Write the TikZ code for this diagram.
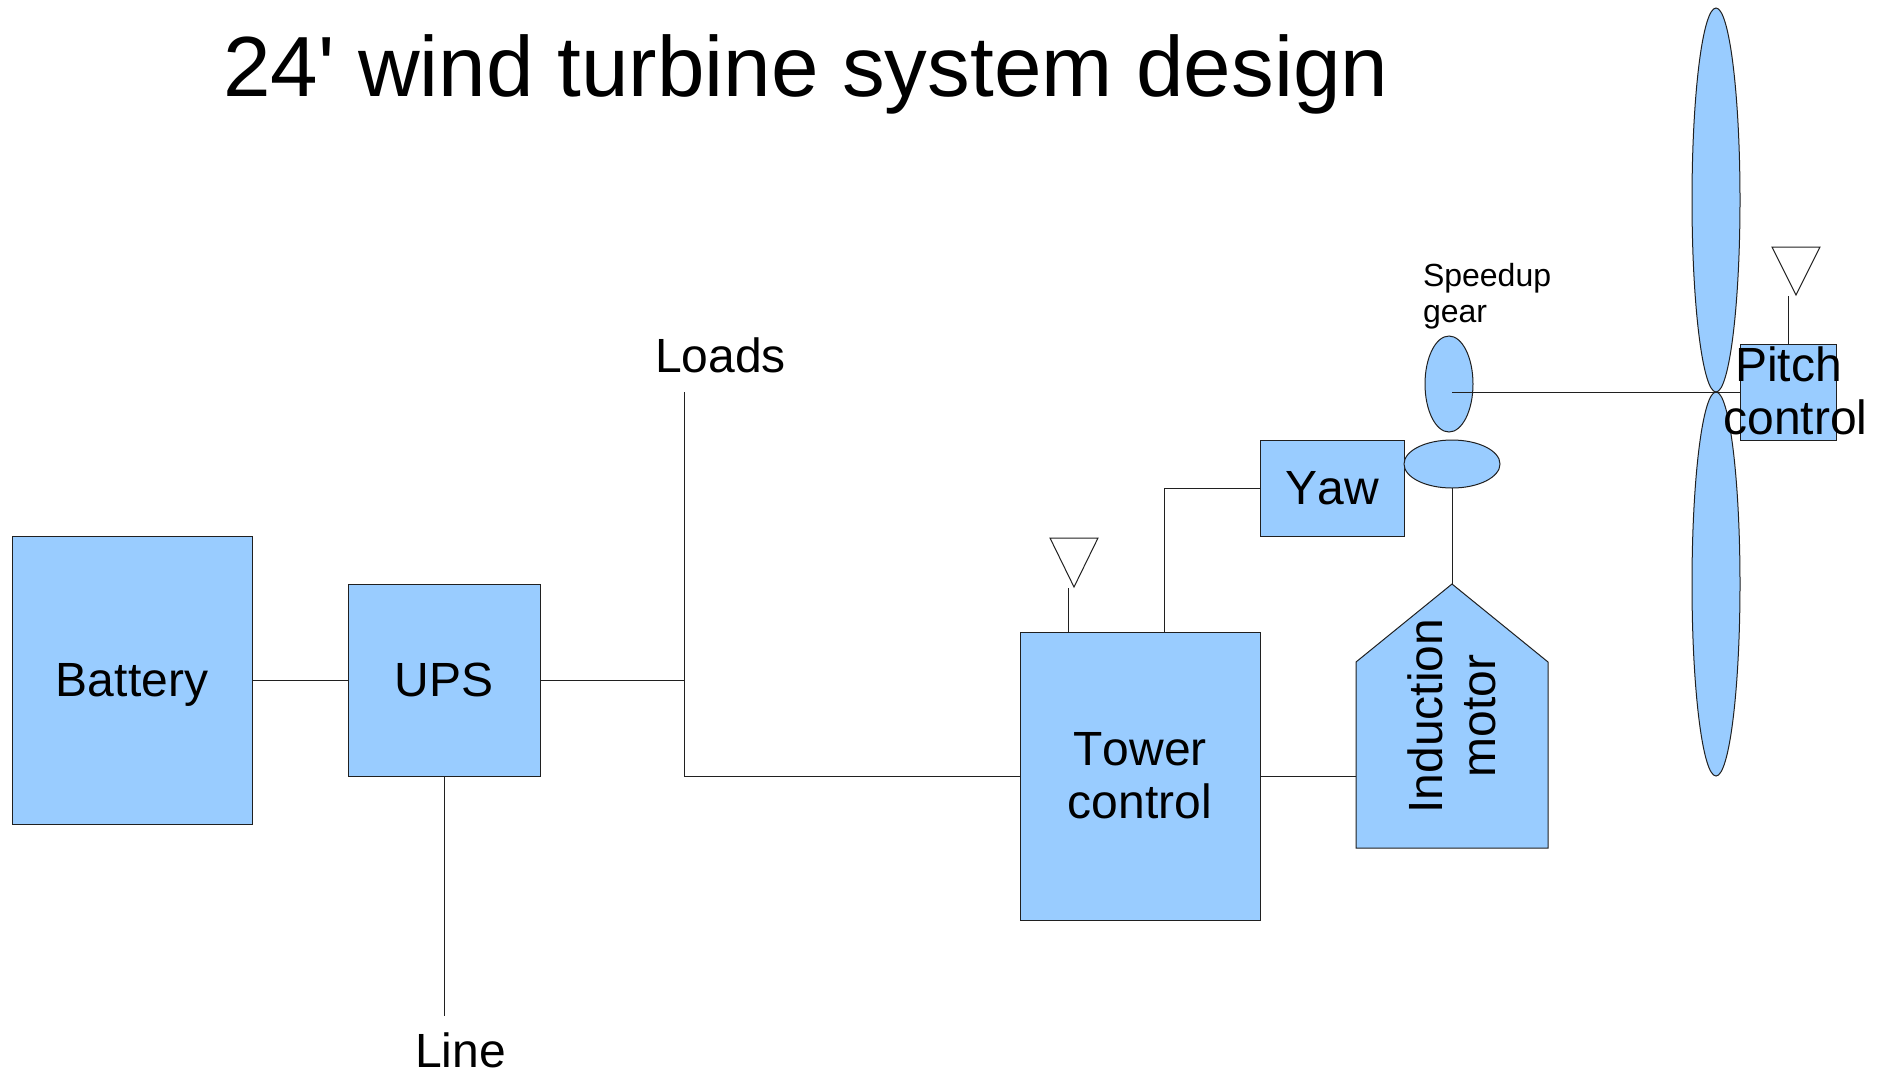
\documentclass[tikz,border=0pt]{standalone}
\usepackage{fontspec}
\setmainfont[Kerning=Off]{Liberation Sans}
\newfontfamily\titlefont[Kerning=Off]{Liberation Sans}
\usetikzlibrary{shapes.geometric}
\definecolor{boxblue}{HTML}{99CCFF}
\definecolor{wirecol}{HTML}{202020}
\tikzset{
  bluebox/.style={draw=wirecol,fill=boxblue,line width=1pt,rectangle,inner sep=0pt,outer sep=0pt,align=center,font=\fontsize{48}{53}\selectfont},
  blueoval/.style={draw=wirecol,fill=boxblue,line width=1pt,ellipse,inner sep=0pt,outer sep=0pt},
  wire/.style={draw=wirecol,line width=1pt},
  shapeline/.style={draw=wirecol,line width=1pt,line join=miter},
  freelabel/.style={anchor=base west,inner sep=0pt,outer sep=0pt,font=\fontsize{48}{53}\selectfont},
  smalllabel/.style={anchor=base west,inner sep=0pt,outer sep=0pt,font=\fontsize{32}{36}\selectfont}
}
\begin{document}
\begin{tikzpicture}[x=1pt,y=-1pt]
\useasboundingbox (0,0) rectangle (1883,1072);
% title
\node[anchor=base west,inner sep=0pt,font=\titlefont\fontsize{85.4}{90}\selectfont] (title) at (223,96) {24' wind turbine system design};
% blades
\node[blueoval,minimum width=48pt,minimum height=384pt] (bladeup) at (1716,200) {};
\node[blueoval,minimum width=48pt,minimum height=384pt] (bladedown) at (1716,584) {};
% coordinates for free ends and corners
\coordinate (hub) at (1452,392);
\coordinate (loadtop) at (684,392);
\coordinate (loadjoin) at (684,680);
\coordinate (loadbottom) at (684,776);
\coordinate (linebottom) at (444,1016);
\coordinate (yawelbow) at (1164,488);
\coordinate (apex) at (1452,584);
\coordinate (towerant) at (1068,588);
\coordinate (pitchant) at (1788,296);
% boxes
\node[bluebox,text depth=0pt,minimum width=240pt,minimum height=288pt] (battery) at (132,680) {Battery};
\node[bluebox,minimum width=192pt,minimum height=192pt] (ups) at (444,680) {UPS};
\node[bluebox,minimum width=240pt,minimum height=288pt] (tower) at (1140,776) {Tower\\control};
\node[bluebox,text depth=0pt,minimum width=144pt,minimum height=96pt] (yaw) at (1332,488) {Yaw};
\node[blueoval,minimum width=48pt,minimum height=96pt] (gear) at (1449,384) {};
\node[blueoval,minimum width=96pt,minimum height=48pt] (base) at (1452,464) {};
\node[bluebox,minimum width=96pt,minimum height=96pt] (pitchbox) at (1788,392) {};
% motor
\draw[shapeline,fill=boxblue] (apex) -- (1548,662) -- (1548,848) -- (1356,848) -- (1356,662) -- cycle;
\coordinate (motorwest) at (1356,776);
% antennas
\draw[shapeline] (1050,538) -- (1098,538) -- (1074,587) -- cycle;
\draw[shapeline] (1772,247) -- (1820,247) -- (1796,295) -- cycle;
% connectors
\draw[wire] (battery.east) -- (ups.west);
\draw[wire] (ups.east) -- (loadjoin);
\draw[wire] (loadtop) -- (loadbottom) -- (tower.west);
\draw[wire] (ups.south) -- (linebottom);
\draw[wire] (tower.east) -- (motorwest);
\draw[wire] (yaw.west) -- (yawelbow) -- (yawelbow |- tower.north);
\draw[wire] (base.south) -- (apex);
\draw[wire] (towerant) -- (towerant |- tower.north);
\draw[wire] (pitchant) -- (pitchbox.north);
\draw[wire] (hub) -- (pitchbox.west |- hub);
% labels
\node[bluebox,draw=none,fill=none,rotate=90] (motorlabel) at (1452,716) {Induction\\motor};
\node[inner sep=0pt,align=center,font=\fontsize{48}{53}\selectfont] (pitchlabel) at (1795.5,391) {Pitch\hspace{14pt}\mbox{}\\control};
\node[freelabel] (loads) at (655,372) {Loads};
\node[freelabel] (line) at (415,1067) {Line};
\node[smalllabel] (speedup) at (1423,286) {Speedup};
\node[smalllabel] (geartext) at (1423,322) {gear};
\end{tikzpicture}
\end{document}
